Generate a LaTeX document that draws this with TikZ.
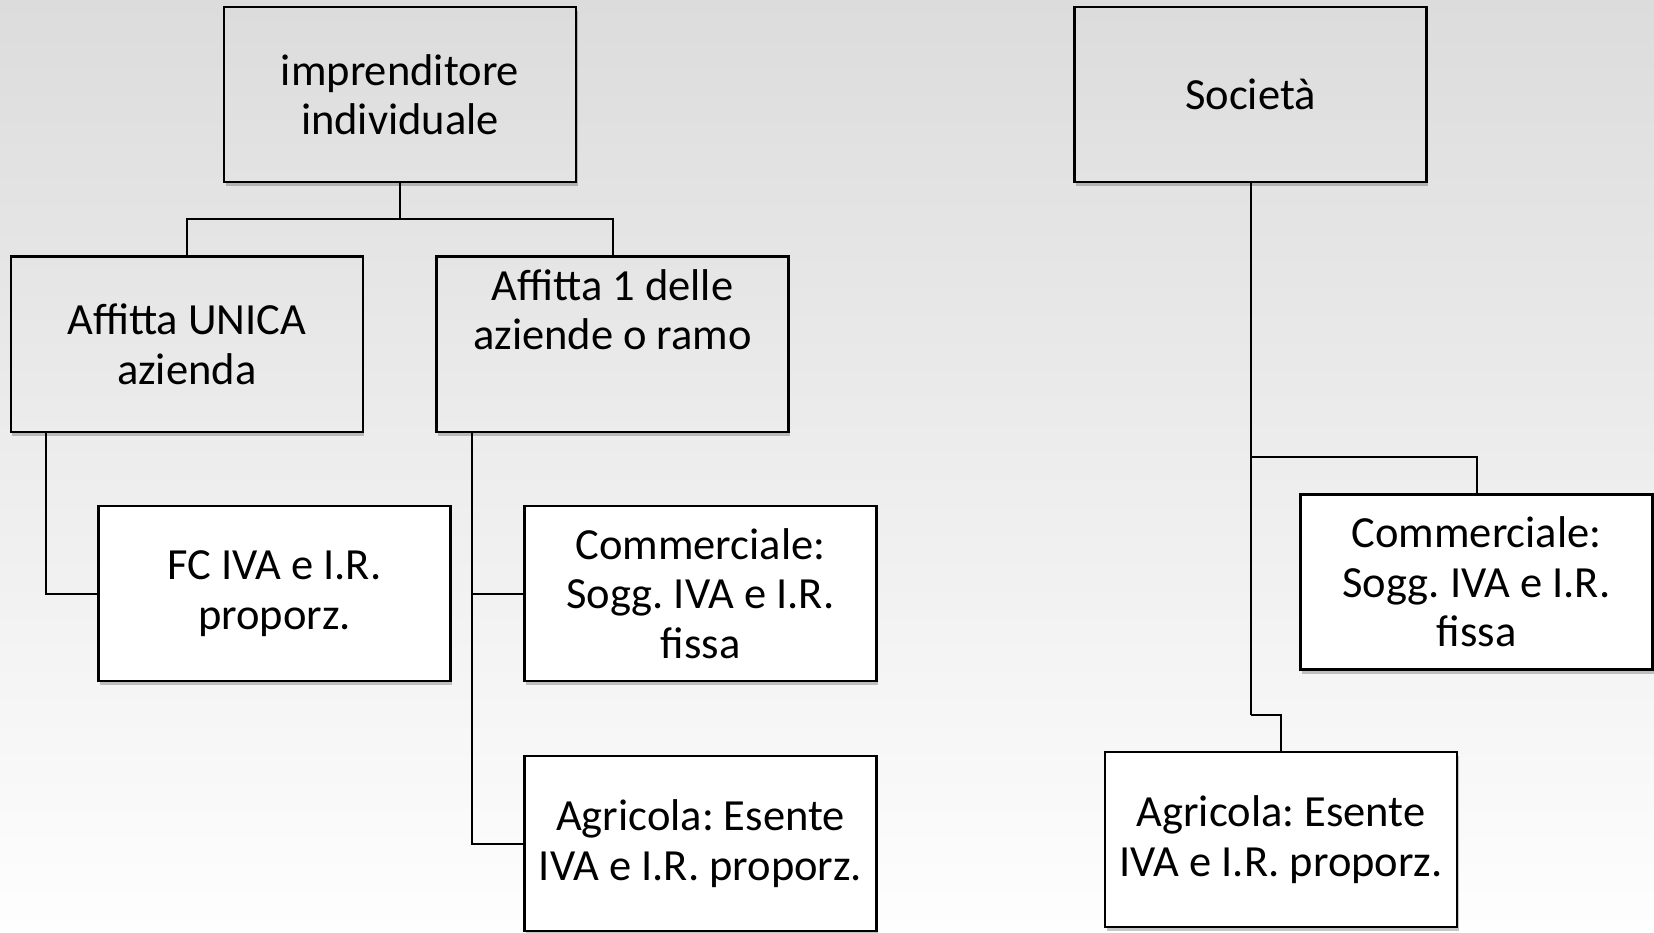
\documentclass[tikz,border=0pt]{standalone}
\usepackage{fontspec}
\setmainfont{Carlito}
\frenchspacing
\usetikzlibrary{shadows}
\definecolor{bgtop}{RGB}{220,220,220}
\definecolor{bgbot}{RGB}{254,254,254}
\definecolor{upA}{RGB}{220,220,220}
\definecolor{upB}{RGB}{227,227,227}
\definecolor{midA}{RGB}{229,229,229}
\definecolor{midB}{RGB}{236,236,236}
\tikzset{
  box/.style={draw=black, line width=2.5pt, minimum width=352pt, minimum height=175pt,
    inner sep=0pt, align=center, font=\fontsize{44.5}{49.6}\selectfont\frenchspacing,
    drop shadow={shadow xshift=1.5pt, shadow yshift=-4pt, opacity=0.22, fill=black}},
  toprow/.style={box, top color=upA, bottom color=upB},
  midrow/.style={box, top color=midA, bottom color=midB},
  leafbox/.style={box, fill=white},
  conn/.style={draw=black, line width=2pt},
}
\begin{document}
\begin{tikzpicture}[x=1pt,y=-1pt]
\fill[top color=bgtop, bottom color=bgbot] (0,0) rectangle (1654,933);
\useasboundingbox (0,0) rectangle (1654,933);

% top row
\node[toprow] (imp) at (400,94.75) {imprenditore\\individuale};
\node[toprow] (soc) at (1250.5,94.75) {Società};

% second row
\node[midrow] (au) at (186.75,344.25) {Affitta UNICA\\azienda};
\node[midrow] (a1) at (612.5,344.25) {Affitta 1 delle\\aziende o ramo\\[20pt]\mbox{}};

% leaves
\node[leafbox] (fc) at (274.5,593.5) {FC IVA e I.R.\\proporz.};
\node[leafbox] (cl) at (700.5,593.5) {Commerciale:\\Sogg. IVA e I.R.\\fissa};
\node[leafbox] (gl) at (700.5,843.5) {Agricola: Esente\\IVA e I.R. proporz.};
\node[leafbox] (cr) at (1476.5,582) {Commerciale:\\Sogg. IVA e I.R.\\fissa};
\node[leafbox] (gr) at (1281,839.5) {Agricola: Esente\\IVA e I.R. proporz.};

% connectors
\coordinate (j1) at (400,219);
\draw[conn] (imp.south) -- (j1);
\draw[conn] (j1) -| (au.north);
\draw[conn] (j1) -| (a1.north);

\draw[conn] ([xshift=-140.35pt]au.south) |- (fc.west);
\draw[conn] ([xshift=-141pt]a1.south) |- (cl.west);
\draw[conn] ([xshift=-141pt]a1.south) |- (gl.west);

\coordinate (j2) at (1250.5,457);
\coordinate (j3) at (1250.5,715);
\draw[conn] (soc.south) -- (j2) -- (j3);
\draw[conn] (j2) -| (cr.north);
\draw[conn] (j3) -| (gr.north);
\end{tikzpicture}
\end{document}
